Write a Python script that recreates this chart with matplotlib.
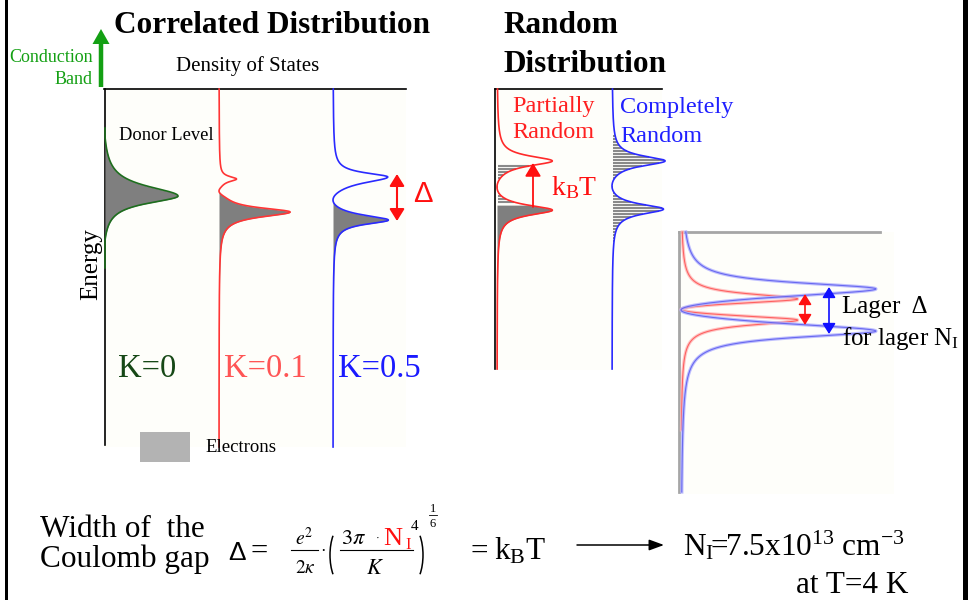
import numpy as np
import matplotlib
matplotlib.use("Agg")
import matplotlib.pyplot as plt
from matplotlib.patches import Rectangle, FancyArrow, Arc

plt.rcParams['font.family'] = ['Liberation Serif', 'DejaVu Serif']
plt.rcParams['mathtext.fontset'] = 'stix'

# ---------------- data ----------------
# Correlated distribution: DOS of donor band for three compensations K
corr_labels = ['K=0', 'K=0.1', 'K=0.5']
corr_peak_E = [[196], [179, 212], [177, 220]]      # energy of peaks (screen units)
corr_peak_h = [[76], [16, 71], [54, 55]]           # peak DOS
corr_w_up = [[12], [3, 5], [5, 6]]
corr_w_dn = [[9], [3, 6], [7, 5]]
corr_gap_E = [None, 191, 200]                      # Fermi level / Coulomb gap centre
corr_gap_w = [None, 5, 10]
corr_floor = [3.0, 0.0, 0.0]

# Random distributions
rand_labels = ['Partially\nRandom', 'Completely\nRandom']
rand_peak_E = [[161, 210], [161, 209]]
rand_peak_h = [[55, 56], [53, 52]]
rand_w = [[6, 6], [6, 6]]
rand_gap_E = [187, 186]
rand_gap_w = [12, 12]

# Inset: smaller vs larger N_I
inset_peak_E = [[299, 320], [289, 331]]
inset_peak_h = [[112, 112], [189, 189]]
inset_w_out = [6, 7.5]
inset_w_in = [5, 9]
inset_gap_E = [309.5, 310]
inset_gap_w = [5, 10]


def dos(E, centers, heights, w_up, w_dn, gapE=None, gapw=None, floor=0.0):
    f = np.zeros_like(E, dtype=float)
    for c, h, wu, wd in zip(centers, heights, w_up, w_dn):
        w = np.where(E < c, wu, wd)
        f += h * w**2 / ((E - c)**2 + w**2)
    if gapE is not None:
        f *= 1 - np.exp(-((E - gapE) / gapw)**2)
    if floor:
        f = np.clip(f - floor, 0, None)
    return f


fig = plt.figure(figsize=(9.68, 6.0), dpi=100)
ax = fig.add_axes([0, 0, 1, 1])
ax.set_xlim(0, 968)
ax.set_ylim(600, 0)
ax.axis('off')

bg = '#fefefa'
gray = '#7f7f7f'

# ---------------- panel 1: correlated ----------------
ax.add_patch(Rectangle((104, 89), 302, 358, fc=bg, ec='none', zorder=0))
ax.plot([104, 406], [89, 89], color='k', lw=1.2)
ax.plot([105, 105], [89, 445], color='k', lw=1.2)

corr_base = [105, 219, 333]
corr_line = ['#1e6e1e', '#ff3535', '#2a2aff']
corr_text = ['#164816', '#ff5555', '#1a1aff']
E = np.linspace(89, 447, 2000)
for i in range(3):
    f = dos(E, corr_peak_E[i], corr_peak_h[i], corr_w_up[i], corr_w_dn[i],
            corr_gap_E[i], corr_gap_w[i], corr_floor[i])
    b = corr_base[i]
    if corr_gap_E[i] is None:
        m = f > 0
        ax.fill_betweenx(E, b, b + f, where=m, color=gray, lw=0, zorder=2)
        mm = (E > 128) & (E < 268)
        ax.plot(b + f[mm], E[mm], color=corr_line[i], lw=1.2, zorder=3)
    else:
        m = E >= corr_gap_E[i]
        ax.fill_betweenx(E, b, b + f, where=m, color=gray, lw=0, zorder=2)
        ax.plot(b + f, E, color=corr_line[i], lw=1.2, zorder=3)

x_lab = [118, 224, 338]
for i in range(3):
    ax.text(x_lab[i], 377, corr_labels[i], fontsize=23.5, color=corr_text[i], va='baseline')

ax.annotate('', xy=(397, 174), xytext=(397, 221),
            arrowprops=dict(arrowstyle='<|-|>,head_length=0.45,head_width=0.28',
                            color='#ff1010', lw=1.5, mutation_scale=16,
                            shrinkA=0, shrinkB=0))
ax.text(413, 202, 'Δ', family=['Liberation Sans', 'DejaVu Sans'], fontsize=21,
        color='#ff1010', va='baseline')

ax.text(272, 33, 'Correlated Distribution', fontsize=22.5, weight='bold',
        ha='center', va='baseline')
ax.text(248, 71, 'Density of States', fontsize=15, ha='center', va='baseline')
ax.text(119, 140, 'Donor Level', fontsize=13.3, va='baseline')
ax.text(91, 264, 'Energy', rotation=90, fontsize=18, ha='center', va='center')
green = '#14a014'
ax.text(93, 62, 'Conduction', fontsize=13, color=green, ha='right', va='baseline')
ax.text(93, 84, 'Band', fontsize=13, color=green, ha='right', va='baseline')
ax.add_patch(FancyArrow(101, 87, 0, -58, width=4.5, head_width=17, head_length=15,
                        length_includes_head=True, color=green, lw=0))

ax.add_patch(Rectangle((140, 432), 50, 30, fc='#b3b3b3', ec='none'))
ax.text(205, 452, 'Electrons', fontsize=13.5, va='baseline')

# ---------------- panel 2: random ----------------
ax.add_patch(Rectangle((495, 89), 167, 281, fc=bg, ec='none', zorder=0))
ax.plot([495, 662], [89, 89], color='k', lw=1.2)
ax.plot([495, 495], [89, 369], color='k', lw=1.2)
ax.text(503, 33, 'Random', fontsize=22.5, weight='bold', va='baseline')
ax.text(503, 72, 'Distribution', fontsize=22.5, weight='bold', va='baseline')

rand_base = [497, 612]
rand_line = ['#ff2a2a', '#2a2aff']
hatch_rng = [(166, 205), (136, 242)]
E2 = np.linspace(89, 369, 2000)
for i in range(2):
    b = rand_base[i]
    f = dos(E2, rand_peak_E[i], rand_peak_h[i], rand_w[i], rand_w[i],
            rand_gap_E[i], rand_gap_w[i])
    Eh = np.arange(hatch_rng[i][0], hatch_rng[i][1], 3.0)
    fh = dos(Eh, rand_peak_E[i], rand_peak_h[i], rand_w[i], rand_w[i],
             rand_gap_E[i], rand_gap_w[i])
    ax.hlines(Eh, b + 0.5, b + fh, color='#8a8a8a', lw=1.5, zorder=2)
    if i == 0:
        m = E2 >= 205
        ax.fill_betweenx(E2, b, b + f, where=m, color=gray, lw=0, zorder=2)
    ax.plot(b + f, E2, color=rand_line[i], lw=1.2, zorder=3)

ax.text(512, 112, 'Partially', fontsize=17.5, color='#ff2020', va='baseline')
ax.text(512, 138, 'Random', fontsize=17.5, color='#ff2020', va='baseline')
ax.text(620, 113, 'Completely', fontsize=17.5, color='#2020ff', va='baseline')
ax.text(620, 142, 'Random', fontsize=17.5, color='#2020ff', va='baseline')

ax.annotate('', xy=(533, 163), xytext=(533, 207),
            arrowprops=dict(arrowstyle='-|>,head_length=0.5,head_width=0.3',
                            color='#ff1010', lw=1.3, mutation_scale=16,
                            shrinkA=0, shrinkB=0))
ax.text(551, 195, r'$\mathregular{k_BT}$', fontsize=20, color='#ff1010', va='baseline')

# ---------------- panel 3: inset ----------------
ax.add_patch(Rectangle((679, 232), 215, 262, fc=bg, ec='none', zorder=0))
ax.plot([679, 880], [232, 232], color='#a6a6a6', lw=2)
ax.plot([679, 679], [232, 492], color='#a6a6a6', lw=2)

E3 = np.linspace(232, 492, 3000)
inset_halo = ['#ffb8b8', '#b0b0ff']
inset_core = ['#ff5050', '#5a5aee']
inset_end = [430, 492]
for i in range(2):
    c = inset_peak_E[i]
    wu = [inset_w_out[i], inset_w_in[i]]
    wd = [inset_w_in[i], inset_w_out[i]]
    f = dos(E3, c, inset_peak_h[i], wu, wd, inset_gap_E[i], inset_gap_w[i])
    m = E3 <= inset_end[i]
    ax.plot(681 + f[m], E3[m], color=inset_halo[i], lw=2.4, alpha=0.8, zorder=3)
    ax.plot(681 + f[m], E3[m], color=inset_core[i], lw=0.8, alpha=0.85, zorder=3)

ax.annotate('', xy=(805, 294), xytext=(805, 325),
            arrowprops=dict(arrowstyle='<|-|>,head_length=0.45,head_width=0.28',
                            color='#ff1010', lw=1.2, mutation_scale=14,
                            shrinkA=0, shrinkB=0), zorder=4)
ax.annotate('', xy=(829, 287), xytext=(829, 334),
            arrowprops=dict(arrowstyle='<|-|>,head_length=0.45,head_width=0.28',
                            color='#1010ff', lw=1.2, mutation_scale=14,
                            shrinkA=0, shrinkB=0), zorder=4)
ax.text(842, 313, 'Lager  Δ', fontsize=18, va='baseline')
ax.text(842, 345, r'for lager $\mathregular{N_I}$', fontsize=18, va='baseline')

# ---------------- bottom formula ----------------
fs = 22.5
ax.text(40, 537, 'Width of  the', fontsize=fs, va='baseline')
ax.text(40, 567, 'Coulomb gap', fontsize=fs, va='baseline')
ax.text(228, 560, 'Δ', family=['Liberation Sans', 'DejaVu Sans'], fontsize=19, va='baseline')
ax.text(251, 560, '=', fontsize=22, va='baseline')
ax.text(304, 545, r'$e^2$', fontsize=14, ha='center', va='baseline')
ax.plot([291, 318], [550, 550], color='k', lw=0.8)
ax.text(305, 573, r'$2\kappa$', fontsize=14, ha='center', va='baseline')
ax.text(323, 556, '·', fontsize=12, ha='center', va='baseline')
ax.add_patch(Arc((342, 555), 24, 58, theta1=115, theta2=245, lw=1.1, color='k'))
ax.add_patch(Arc((411, 555), 24, 58, theta1=-65, theta2=65, lw=1.1, color='k'))
ax.text(341, 544, r'$3\pi$', fontsize=16, va='baseline')
ax.text(376, 541, '·', fontsize=8, va='baseline')
ax.text(383, 545, 'N', fontsize=19, color='#ff1010', va='baseline')
ax.text(405, 549, 'I', fontsize=12, color='#ff1010', va='baseline')
ax.text(411, 530, '4', fontsize=11, va='baseline')
ax.plot([340, 413], [550, 550], color='k', lw=0.8)
ax.text(375, 574, r'$K$', fontsize=16, ha='center', va='baseline')
ax.text(433, 512, '1', fontsize=9, ha='center', va='baseline')
ax.plot([429, 437], [515, 515], color='k', lw=0.6)
ax.text(433, 527, '6', fontsize=9, ha='center', va='baseline')

ax.text(470, 560, '=', fontsize=fs, va='baseline')
ax.text(494, 560, r'$\mathregular{k_BT}$', fontsize=fs, va='baseline')
ax.annotate('', xy=(664, 545), xytext=(577, 545),
            arrowprops=dict(arrowstyle='-|>,head_length=0.6,head_width=0.22',
                            color='k', lw=1.1, mutation_scale=15,
                            shrinkA=0, shrinkB=0))
ax.text(683, 556, r'$\mathregular{N_I\!\!=\!\!7.5x10^{13}\ cm^{-3}}$', fontsize=fs, va='baseline')
ax.text(908, 593, 'at T=4 K', fontsize=fs, ha='right', va='baseline')

# ---------------- slide borders ----------------
ax.add_patch(Rectangle((4.5, 0), 3.5, 600, fc='k', ec='none', zorder=10))
ax.add_patch(Rectangle((963, 0), 6, 600, fc='k', ec='none', zorder=10))

fig.savefig('out.png', dpi=100)
